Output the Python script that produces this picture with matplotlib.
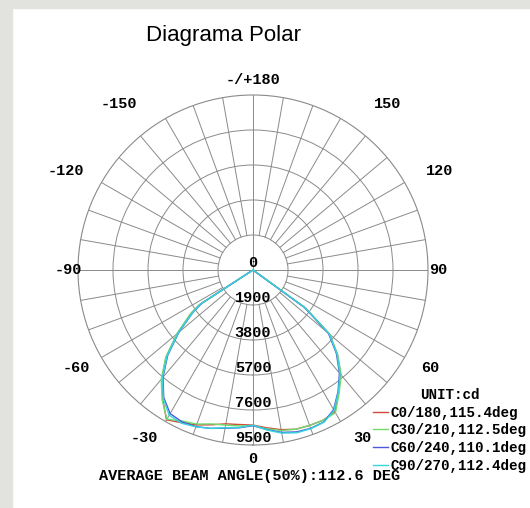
import numpy as np
import matplotlib.pyplot as plt
from matplotlib.patches import Rectangle

# ---------------------------------------------------------
# data : luminous intensity (cd) per C-plane, gamma in deg
# ---------------------------------------------------------
angles = [-90, -57, -55, -50, -45, -40, -35, -30, -25, -20, -15, -10, -5,
          0, 5, 10, 15, 20, 25, 30, 35, 40, 45, 50, 54, 90]

c0_180 = [0, 3450, 4100, 5350, 6650, 7700, 8550, 9390, 9150, 8950, 8700, 8480, 8420,
          8420, 8600, 8800, 8950, 8980, 9000, 8900, 8100, 7400, 6480, 5420, 3500, 0]
c30_210 = [0, 3500, 4150, 5400, 6700, 7750, 8600, 9350, 9050, 8900, 8650, 8550, 8500,
           8450, 8650, 8850, 8950, 8980, 9000, 8950, 8150, 7450, 6500, 5450, 3550, 0]
c60_240 = [0, 3300, 3950, 5250, 6550, 7600, 8450, 9000, 9100, 9050, 8900, 8720, 8600,
           8450, 8700, 8950, 9100, 9150, 9100, 8750, 8050, 7300, 6400, 5350, 3450, 0]
c90_270 = [0, 3400, 4000, 5300, 6600, 7650, 8500, 9100, 9180, 9060, 8900, 8700, 8580,
           8420, 8720, 8990, 9150, 9170, 9120, 8800, 8080, 7350, 6450, 5400, 3500, 0]

series_labels = ["C0/180,115.4deg", "C30/210,112.5deg", "C60/240,110.1deg", "C90/270,112.4deg"]
series_colors = ["#d04a3a", "#6fdc6f", "#4a5ad8", "#35d5e0"]

ring_values = [1900, 3800, 5700, 7600, 9500]
ang_labels = ["0", "30", "60", "90", "120", "150", "-/+180", "-150", "-120", "-90", "-60", "-30"]
ang_label_pos = [0, 33, 61, 90, 118, 141, 180, -141, -118, -90, -61, -33]
ang_label_rad = [1.08, 1.145, 1.155, 1.058, 1.21, 1.22, 1.086, 1.22, 1.21, 1.058, 1.155, 1.145]

# ---------------------------------------------------------
# figure
# ---------------------------------------------------------
mono = dict(family="Liberation Mono", weight="bold", size=11)
mono_leg = dict(family="Liberation Mono", weight="bold", size=10.3)
rmax = ring_values[-1]

fig = plt.figure(figsize=(5.3, 5.08), dpi=100)
fig.patches.append(Rectangle((0, 0), 12 / 530, 1, transform=fig.transFigure,
                             color="#e2e2de", zorder=-1))
fig.patches.append(Rectangle((0, 1 - 8 / 508), 1, 8 / 508, transform=fig.transFigure,
                             color="#e2e2de", zorder=-1))

ax = fig.add_axes([78 / 530, 63 / 508, 350 / 530, 350 / 508], projection="polar")
ax.set_theta_zero_location("S")
ax.set_theta_direction(1)
ax.set_ylim(0, rmax)
ax.set_xticks([])
ax.set_yticks(ring_values[:-1])
ax.set_yticklabels([])
ax.yaxis.grid(True, color="#8a8a8a", lw=0.7)
ax.spines["polar"].set_color("#8a8a8a")
ax.spines["polar"].set_linewidth(0.8)

# spokes every 10 deg, main axes through the centre
for th in range(0, 360, 10):
    r0 = 0 if th % 90 == 0 else ring_values[0]
    ax.plot([np.radians(th)] * 2, [r0, rmax], color="#8a8a8a", lw=0.7, zorder=1)

theta = np.radians(angles)
for vals, lbl, col in zip([c0_180, c30_210, c60_240, c90_270], series_labels, series_colors):
    ax.plot(theta, vals, color=col, lw=1.0, label=lbl, zorder=3)

# labels
ax.text(0, 0, "0", ha="center", va="bottom", fontdict=mono, zorder=4)
for r in ring_values:
    ax.text(0, r, str(r), ha="center", va="bottom", fontdict=mono, zorder=4)

for lbl, th, rf in zip(ang_labels, ang_label_pos, ang_label_rad):
    ax.text(np.radians(th), rf * rmax, lbl, ha="center", va="center",
            fontdict=mono, clip_on=False)

fig.text(224 / 530, 1 - 36 / 508, "Diagrama Polar", ha="center", va="center",
         family="Liberation Sans", size=16)
fig.text(250 / 530, 1 - 476 / 508, "AVERAGE BEAM ANGLE(50%):112.6 DEG",
         ha="center", va="center", fontdict=mono)

fig.legend(loc="upper left", bbox_to_anchor=(373 / 530, 1 - 388 / 508),
           title="UNIT:cd", frameon=False, prop=mono_leg, title_fontproperties=mono_leg,
           handlelength=1.05, handletextpad=0.2, labelspacing=0.26,
           borderpad=0, borderaxespad=0)

plt.savefig("out.png", dpi=100)
plt.close()
